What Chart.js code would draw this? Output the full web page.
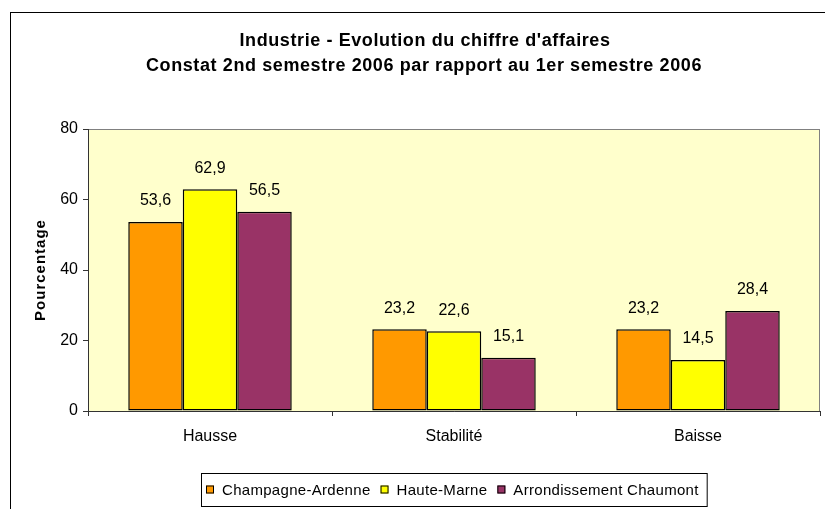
<!DOCTYPE html>
<html><head><meta charset="utf-8">
<script src="https://cdn.jsdelivr.net/npm/chart.js@4"></script>
<style>html,body{margin:0;padding:0;background:#fff}#wrap{width:825px;height:509px;position:relative}</style>
</head><body><div id="wrap"><canvas id="c" width="825" height="509"></canvas></div>
<script>
const titleLines = ["Industrie - Evolution du chiffre d'affaires", "Constat 2nd semestre 2006 par rapport au 1er semestre 2006"];
const categories = ["Hausse", "Stabilité", "Baisse"];
const seriesNames = ["Champagne-Ardenne", "Haute-Marne", "Arrondissement Chaumont"];
const champagneArdenne = [53.6, 23.2, 23.2];
const hauteMarne = [62.9, 22.6, 14.5];
const arrondissementChaumont = [56.5, 15.1, 28.4];
const yTicks = [0, 20, 40, 60, 80];
const yTitle = "Pourcentage";
const colors = ["#FF9900", "#FFFF00", "#993366"];

const FONT = "'Liberation Sans', Arial, sans-serif";

const decor = {
  id: 'decor',
  beforeDraw(chart) {
    const ctx = chart.ctx, a = chart.chartArea;
    ctx.save();
    ctx.fillStyle = '#fff';
    ctx.fillRect(0, 0, chart.width, chart.height);
    ctx.strokeStyle = '#000'; ctx.lineWidth = 1;
    ctx.strokeRect(10.5, 12.5, 1000, 1000);
    ctx.fillStyle = '#FFFFCC';
    ctx.fillRect(a.left, a.top, a.right - a.left, a.bottom - a.top);
    ctx.strokeStyle = '#808080';
    ctx.strokeRect(a.left + 0.5, a.top + 0.5, a.right - a.left - 1, a.bottom - a.top);
    ctx.restore();
  },
  afterDraw(chart) {
    const ctx = chart.ctx, a = chart.chartArea;
    ctx.save();
    ctx.fillStyle = '#000';
    ctx.textAlign = 'center'; ctx.textBaseline = 'middle';
    ctx.font = 'bold 18px ' + FONT;
    ctx.letterSpacing = '0.6px';
    ctx.fillText(titleLines[0], 425, 41);
    ctx.fillText(titleLines[1], 424, 66);
    ctx.font = 'bold 15px ' + FONT;
    ctx.letterSpacing = '1px';
    ctx.translate(41, (a.top + a.bottom) / 2);
    ctx.rotate(-Math.PI / 2);
    ctx.fillText(yTitle, 0, 0);
    ctx.setTransform(1, 0, 0, 1, 0, 0);
    ctx.letterSpacing = '0px';
    ctx.font = '15px ' + FONT;
    ctx.letterSpacing = '0.3px';
    const ds = chart.data.datasets;
    const sq = 8, gapSqText = 8, gapItems = 10, padL = 5, padR = 8;
    let total = padL;
    const widths = ds.map(d => ctx.measureText(d.label).width);
    widths.forEach((w, i) => { total += sq + gapSqText + w + (i < ds.length - 1 ? gapItems : 0); });
    total += padR;
    const cx = (a.left + a.right) / 2;
    const bx = Math.round(cx - total / 2), by = 473, bh = 33;
    ctx.strokeStyle = '#000'; ctx.lineWidth = 1;
    ctx.strokeRect(bx + 0.5, by + 0.5, total, bh);
    let x = bx + padL;
    const cy = by + bh / 2;
    ctx.textAlign = 'left';
    ds.forEach((d, i) => {
      ctx.fillStyle = d.backgroundColor;
      ctx.fillRect(x, cy - 4, sq, sq);
      ctx.strokeStyle = '#000';
      ctx.strokeRect(x + 0.5, cy - 3.5, sq - 1, sq - 1);
      x += sq + gapSqText;
      ctx.fillStyle = '#000';
      ctx.fillText(d.label, x, cy + 1);
      x += widths[i] + gapItems;
    });
    ctx.restore();
  },
  afterDatasetsDraw(chart) {
    const ctx = chart.ctx;
    ctx.save();
    ctx.fillStyle = '#000';
    ctx.font = '16px ' + FONT;
    ctx.textAlign = 'center'; ctx.textBaseline = 'middle';
    chart.data.datasets.forEach((d, di) => {
      chart.getDatasetMeta(di).data.forEach((el, i) => {
        ctx.fillText(String(d.data[i]).replace('.', ','), el.x, el.y - 21);
      });
    });
    ctx.restore();
  }
};

new Chart(document.getElementById('c'), {
  type: 'bar',
  data: {
    labels: categories,
    datasets: [
      { label: seriesNames[0], data: champagneArdenne, backgroundColor: colors[0] },
      { label: seriesNames[1], data: hauteMarne, backgroundColor: colors[1] },
      { label: seriesNames[2], data: arrondissementChaumont, backgroundColor: colors[2] }
    ].map(d => Object.assign(d, { borderColor: '#000', borderWidth: 1.5, borderSkipped: false, barPercentage: 1, categoryPercentage: 0.67 }))
  },
  options: {
    responsive: false, animation: false, devicePixelRatio: 1,
    layout: { padding: { left: 0, right: 5, top: 129, bottom: 0 } },
    plugins: { legend: { display: false }, title: { display: false }, tooltip: { enabled: false } },
    scales: {
      x: {
        grid: { display: true, drawOnChartArea: false, drawTicks: true, tickLength: 5, color: '#333', offset: true },
        border: { display: true, color: '#333', width: 1 },
        ticks: { color: '#000', font: { family: FONT, size: 16 }, padding: 11, maxRotation: 0 },
        afterFit(s) { s.height = 98; }
      },
      y: {
        min: 0, max: 80,
        afterBuildTicks(s) { s.ticks = yTicks.map(v => ({ value: v })); },
        grid: { display: true, drawOnChartArea: false, drawTicks: true, tickLength: 5, color: '#333' },
        border: { display: true, color: '#333', width: 1 },
        ticks: { color: '#000', font: { family: FONT, size: 16 }, padding: 5 },
        afterFit(s) { s.width = 88; }
      }
    }
  },
  plugins: [decor]
});
</script></body></html>
